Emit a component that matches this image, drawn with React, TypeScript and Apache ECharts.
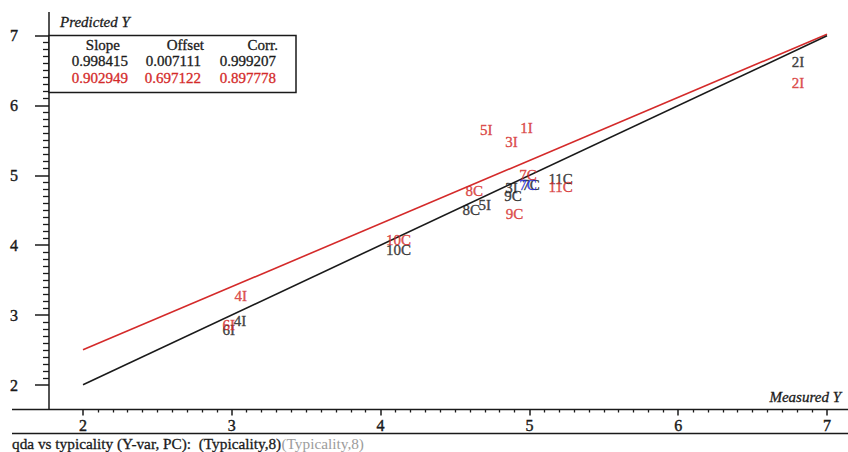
import React, { useEffect, useRef } from "react";
import * as echarts from "echarts";

const xTicks = [2, 3, 4, 5, 6, 7];
const yTicks = [2, 3, 4, 5, 6, 7];

const fitHeaders = ["Slope", "Offset", "Corr."];
const blackFit = [0.998415, 0.007111, 0.999207];
const redFit = [0.902949, 0.697122, 0.897778];

const blackNames = ["2I", "3I", "4I", "5I", "6I", "7C", "8C", "9C", "10C", "11C"];
const blackX = [6.805, 4.88, 3.055, 4.7, 2.98, 5.01, 4.61, 4.89, 4.12, 5.21];
const blackY = [6.62, 4.82, 2.92, 4.575, 2.79, 4.86, 4.5, 4.7, 3.93, 4.95];

const redNames = ["1I", "2I", "3I", "4I", "5I", "6I", "7C", "8C", "9C", "10C", "11C"];
const redX = [4.98, 6.805, 4.88, 3.06, 4.71, 2.98, 4.99, 4.63, 4.9, 4.12, 5.21];
const redY = [5.68, 6.32, 5.48, 3.27, 5.65, 2.86, 5.0, 4.78, 4.45, 4.07, 4.83];

const blueNames = ["7C"];
const blueX = [4.99];
const blueY = [4.86];

const lineX = [2, 7];

const BLACK = "#1a1a1a";
const RED = "#d42a2a";
const BLUE = "#1f2bd6";
const GREY = "#9c9c9c";
const FONT = "Liberation Serif";

function labelSeries(names: string[], xs: number[], ys: number[], color: string, z: number) {
  return {
    type: "scatter",
    xAxisIndex: 0,
    yAxisIndex: 0,
    symbolSize: 0,
    z,
    clip: false,
    silent: true,
    itemStyle: { color },
    data: names.map((n, i) => ({ name: n, value: [xs[i], ys[i]] })),
    label: {
      show: true,
      position: "inside",
      formatter: (p: any) => p.name,
      color,
      textBorderWidth: 0.4,
      textBorderColor: color,
      fontFamily: FONT,
      fontSize: 15,
    },
  };
}

export default function App() {
  const ref = useRef<HTMLDivElement>(null);
  useEffect(() => {
    if (!ref.current) return;
    const chart = echarts.init(ref.current, null, { renderer: "svg" });
    const fmt = (v: number) => v.toFixed(6);
    const txt = (fill: string) => ({ fill, stroke: fill, lineWidth: 0.3 });
    const option: any = {
      animation: false,
      backgroundColor: "#ffffff",
      grid: [{ left: 83, top: 35.5, width: 744, height: 349.5 }],
      xAxis: [
        {
          type: "value",
          gridIndex: 0,
          min: xTicks[0],
          max: xTicks[xTicks.length - 1],
          interval: 1,
          offset: 24.5,
          axisLine: { show: false },
          axisTick: { show: true, length: 6, lineStyle: { color: BLACK, width: 1.5 } },
          minorTick: { show: true, splitNumber: 10, length: 3, lineStyle: { color: BLACK, width: 1.3 } },
          splitLine: { show: false },
          axisLabel: {
            margin: 8,
            color: BLACK,
            fontFamily: FONT,
            fontSize: 16,
            textBorderColor: BLACK,
            textBorderWidth: 0.4,
          },
        },
      ],
      yAxis: [
        {
          type: "value",
          gridIndex: 0,
          min: yTicks[0],
          max: yTicks[yTicks.length - 1],
          interval: 1,
          offset: 34,
          axisLine: { show: false },
          axisTick: { show: true, length: 14, lineStyle: { color: BLACK, width: 1.5 } },
          minorTick: { show: true, splitNumber: 10, length: 6, lineStyle: { color: BLACK, width: 1.3 } },
          splitLine: { show: false },
          axisLabel: {
            margin: 31,
            color: BLACK,
            fontFamily: FONT,
            fontSize: 16,
            textBorderColor: BLACK,
            textBorderWidth: 0.4,
          },
        },
      ],
      series: [
        {
          type: "line",
          xAxisIndex: 0,
          yAxisIndex: 0,
          clip: false,
          symbol: "none",
          z: 2,
          lineStyle: { color: RED, width: 1.6 },
          data: lineX.map((x) => [x, redFit[0] * x + redFit[1]]),
        },
        {
          type: "line",
          xAxisIndex: 0,
          yAxisIndex: 0,
          clip: false,
          symbol: "none",
          z: 3,
          lineStyle: { color: BLACK, width: 1.6 },
          data: lineX.map((x) => [x, blackFit[0] * x + blackFit[1]]),
        },
        labelSeries(blackNames, blackX, blackY, BLACK, 4),
        labelSeries(redNames, redX, redY, RED, 5),
        labelSeries(blueNames, blueX, blueY, BLUE, 6),
      ],
      graphic: [
        { type: "line", shape: { x1: 12, y1: 409.5, x2: 848, y2: 409.5 }, style: { stroke: BLACK, lineWidth: 1.5 } },
        { type: "line", shape: { x1: 49, y1: 12, x2: 49, y2: 409.5 }, style: { stroke: BLACK, lineWidth: 1.5 } },
        { type: "line", shape: { x1: 12, y1: 433.5, x2: 848, y2: 433.5 }, style: { stroke: BLACK, lineWidth: 1.5 } },
        {
          type: "rect",
          shape: { x: 49, y: 35.5, width: 247, height: 57 },
          style: { fill: "#ffffff", stroke: BLACK, lineWidth: 1.5 },
          z: 10,
        },
        ...fitHeaders.map((h, i) => ({
          type: "text",
          z: 11,
          x: [120, 204, 278][i],
          y: 45,
          style: { text: h, ...txt(BLACK), font: `15px "${FONT}"`, textAlign: "right", textVerticalAlign: "middle" },
        })),
        ...blackFit.map((v, i) => ({
          type: "text",
          z: 11,
          x: [128, 201, 276][i],
          y: 61,
          style: { text: fmt(v), ...txt(BLACK), font: `15px "${FONT}"`, textAlign: "right", textVerticalAlign: "middle" },
        })),
        ...redFit.map((v, i) => ({
          type: "text",
          z: 11,
          x: [128, 201, 276][i],
          y: 78,
          style: { text: fmt(v), ...txt(RED), font: `15px "${FONT}"`, textAlign: "right", textVerticalAlign: "middle" },
        })),
        {
          type: "text",
          x: 60,
          y: 22,
          style: { text: "Predicted Y", ...txt(BLACK), font: `italic 15px "${FONT}"`, textAlign: "left", textVerticalAlign: "middle" },
        },
        {
          type: "text",
          x: 841,
          y: 397,
          style: { text: "Measured Y", ...txt(BLACK), font: `italic 15px "${FONT}"`, textAlign: "right", textVerticalAlign: "middle" },
        },
        {
          type: "text",
          x: 12,
          y: 443,
          style: {
            text: "qda vs typicality (Y-var, PC):  (Typicality,8)",
            ...txt(BLACK),
            font: `15.3px "${FONT}"`,
            textAlign: "left",
            textVerticalAlign: "middle",
          },
        },
        {
          type: "text",
          x: 281.5,
          y: 443,
          style: {
            text: "(Typicality,8)",
            fill: GREY,
            font: `15.3px "${FONT}"`,
            textAlign: "left",
            textVerticalAlign: "middle",
          },
        },
      ],
    };
    chart.setOption(option);
    return () => chart.dispose();
  }, []);
  return (
    <div
      ref={ref}
      style={{ position: "absolute", left: 0, top: 0, width: 848, height: 452, background: "#fff" }}
    />
  );
}
